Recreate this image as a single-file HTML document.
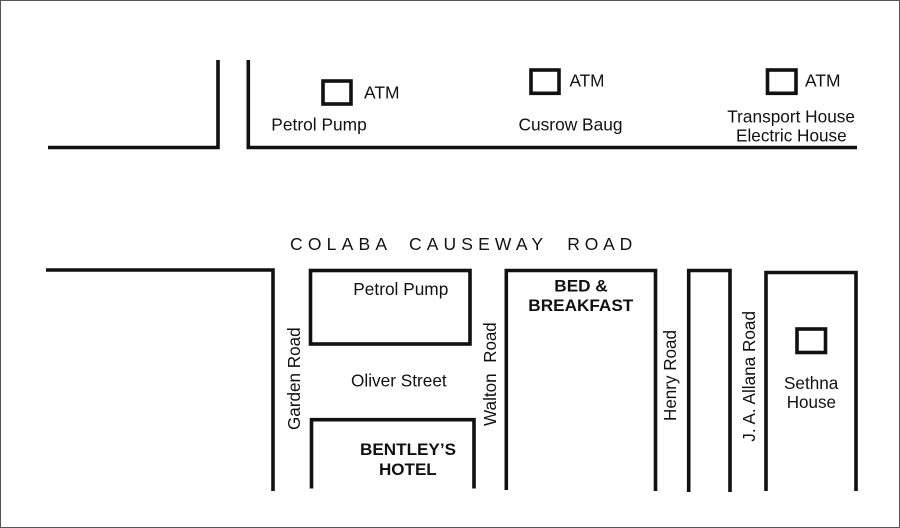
<!DOCTYPE html>
<html>
<head>
<meta charset="utf-8">
<style>
html,body{margin:0;padding:0;background:#fff;}
svg{display:block;filter:blur(0.3px);}
text{font-family:"Liberation Sans",sans-serif;fill:#111;font-size:17.5px;}
.b{font-weight:bold;font-size:17px;}
</style>
</head>
<body>
<svg width="900" height="528" viewBox="0 0 900 528" xmlns="http://www.w3.org/2000/svg">
<rect x="0.5" y="0.5" width="899" height="527" fill="#fff" stroke="#555" stroke-width="1"/>
<g fill="none" stroke="#111" stroke-width="3.6">
<polyline points="48,147.5 218,147.5 218,60"/>
<polyline points="248.3,60 248.3,147.5 857,147.5"/>
<polyline points="46,270 273,270 273,491"/>
<rect x="310.5" y="270.5" width="159.5" height="73.5"/>
<polyline points="311.5,488.5 311.5,419.7 474,419.7 474,488.5"/>
<polyline points="506.3,490 506.3,270.5 655.5,270.5 655.5,491"/>
<polyline points="688.7,492 688.7,270.5 730,270.5 730,492"/>
<polyline points="766,491 766,272.5 856,272.5 856,491"/>
<rect x="323" y="81" width="28" height="23"/>
<rect x="531" y="70" width="28" height="23.3"/>
<rect x="767.5" y="70" width="28.5" height="23.3"/>
<rect x="797" y="329" width="28.5" height="23.5"/>
</g>
<text x="364" y="98.3" textLength="35.5" lengthAdjust="spacingAndGlyphs">ATM</text>
<text x="569.5" y="86.7" textLength="35" lengthAdjust="spacingAndGlyphs">ATM</text>
<text x="805" y="86.7" textLength="35.5" lengthAdjust="spacingAndGlyphs">ATM</text>
<text x="271.3" y="130.7" textLength="95.5" lengthAdjust="spacingAndGlyphs">Petrol Pump</text>
<text x="518.5" y="130.7" textLength="104" lengthAdjust="spacingAndGlyphs">Cusrow Baug</text>
<text x="727.3" y="122.3" textLength="127.7" lengthAdjust="spacingAndGlyphs">Transport House</text>
<text x="736" y="141.7" textLength="110.7" lengthAdjust="spacingAndGlyphs">Electric House</text>
<text x="290" y="250" textLength="97" lengthAdjust="spacing">COLABA</text>
<text x="409" y="250" textLength="134" lengthAdjust="spacing">CAUSEWAY</text>
<text x="567.3" y="250" textLength="65" lengthAdjust="spacing">ROAD</text>
<text x="353.3" y="295" textLength="95" lengthAdjust="spacingAndGlyphs">Petrol Pump</text>
<text x="351" y="386.7" textLength="95.7" lengthAdjust="spacingAndGlyphs">Oliver Street</text>
<text x="554.3" y="291.7" class="b" textLength="53.4" lengthAdjust="spacingAndGlyphs">BED &amp;</text>
<text x="528.3" y="311" class="b" textLength="105" lengthAdjust="spacingAndGlyphs">BREAKFAST</text>
<text x="360" y="455" class="b" textLength="96" lengthAdjust="spacingAndGlyphs">BENTLEY’S</text>
<text x="379" y="475" class="b" textLength="57.7" lengthAdjust="spacingAndGlyphs">HOTEL</text>
<text x="784" y="389" textLength="54.3" lengthAdjust="spacingAndGlyphs">Sethna</text>
<text x="786.7" y="408" textLength="49.3" lengthAdjust="spacingAndGlyphs">House</text>
<text transform="translate(300,430) rotate(-90)" textLength="102.7" lengthAdjust="spacingAndGlyphs">Garden Road</text>
<text transform="translate(496,426) rotate(-90)" textLength="52.7" lengthAdjust="spacingAndGlyphs">Walton</text>
<text transform="translate(496,362.7) rotate(-90)" textLength="40.4" lengthAdjust="spacingAndGlyphs">Road</text>
<text transform="translate(676,421) rotate(-90)" textLength="91" lengthAdjust="spacingAndGlyphs">Henry Road</text>
<text transform="translate(755,441.7) rotate(-90)" textLength="130.7" lengthAdjust="spacingAndGlyphs">J. A. Allana Road</text>
</svg>
</body>
</html>
